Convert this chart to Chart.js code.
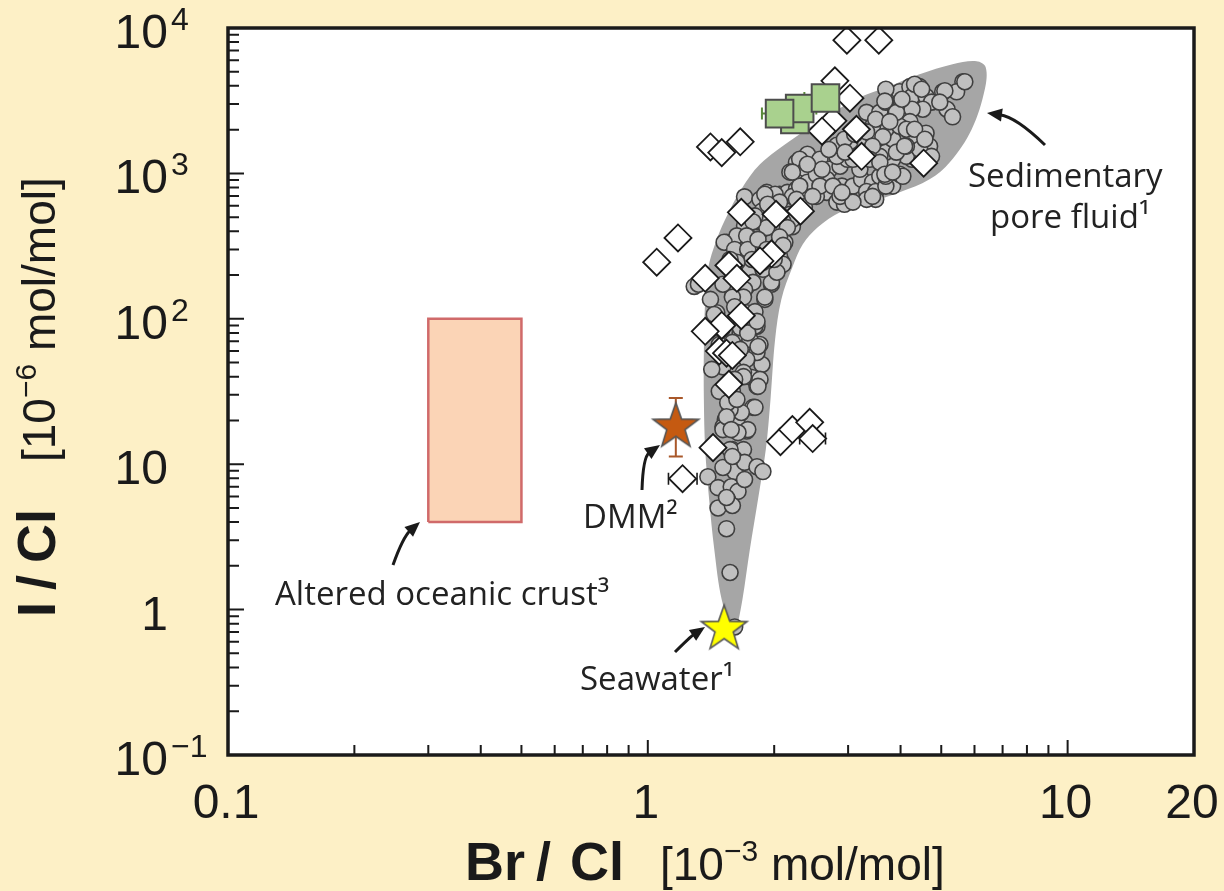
<!DOCTYPE html>
<html>
<head>
<meta charset="utf-8">
<script src="https://cdn.jsdelivr.net/npm/chart.js@4.4.1/dist/chart.umd.min.js"></script>
<style>
  html, body { margin: 0; padding: 0; background: #fdf0c6; }
  #wrap { width: 1224px; height: 891px; }
</style>
</head>
<body>
<div id="wrap"><canvas id="chart" width="1224" height="891"></canvas></div>
<script>
// axis ticks
const xTicks = [0.1, 1, 10, 20];
const xTickLabels = ['0.1', '1', '10', '20'];
const yTicks = [0.1, 1, 10, 100, 1000, 10000];
const yTickLabels = [['10', '\u22121'], ['1', ''], ['10', ''], ['10', '2'], ['10', '3'], ['10', '4']];

// sedimentary pore fluid field (outline), Br/Cl vs I/Cl
const envelope = [
  [1.61, 0.62], [1.50, 1.17], [1.44, 2.59], [1.40, 5.71], [1.37, 12.6], [1.36, 27.9], [1.36, 61.5],
  [1.37, 136], [1.39, 219], [1.46, 352], [1.55, 523], [1.67, 778], [1.85, 1155], [2.21, 1718],
  [2.67, 2472], [3.20, 3340], [3.71, 3915], [4.44, 4810], [5.32, 5635], [6.07, 5910], [6.38, 5375],
  [6.35, 3790], [5.91, 2012], [5.24, 1192], [4.69, 910], [3.98, 741], [3.38, 632], [2.87, 540],
  [2.54, 426], [2.34, 325], [2.21, 226], [2.08, 136], [2.01, 72], [1.96, 27.9], [1.91, 12.6],
  [1.83, 5.71], [1.75, 2.59], [1.68, 1.17], [1.61, 0.62]
];

// pore fluid samples (grey circles)
const poreFluid = [
  [1.78, 24.6], [1.53, 20.3], [1.66, 22.3], [1.51, 18.1], [1.63, 19.2], [1.72, 16.9], [1.59, 12.6], [1.69, 12.6],
  [1.61, 10.8], [1.61, 9.6], [1.61, 8.9], [1.51, 9.5], [1.70, 10.3], [1.82, 9.6], [1.88, 8.9], [1.39, 8.2],
  [1.47, 6.9], [1.58, 7.0], [1.64, 6.5], [1.55, 5.7], [1.47, 5.0], [1.59, 5.2], [1.54, 3.6], [1.57, 1.8],
  [1.61, 0.76], [1.82, 89], [1.85, 66.6], [1.87, 48.5], [1.77, 39.5], [1.82, 34.3], [1.51, 32.7], [1.59, 31.7],
  [1.80, 24.6], [1.67, 22.7], [1.57, 23.8], [1.73, 17.3], [1.64, 16.5], [1.51, 17.3], [1.57, 12.6], [1.59, 11.3],
  [1.70, 7.85], [1.54, 5.9], [1.72, 89], [1.66, 80], [1.75, 72], [1.82, 58.7], [1.72, 52.6], [1.50, 55],
  [1.69, 42.8], [1.48, 31.7], [1.85, 38.3], [2.08, 248], [2.04, 219], [1.97, 173], [1.90, 136], [1.75, 219],
  [1.72, 167], [1.59, 159], [1.66, 143], [1.72, 110], [1.80, 112], [1.80, 89], [1.66, 87], [1.73, 80],
  [1.83, 64.5], [1.83, 34.3], [1.69, 40], [1.61, 38.3], [1.55, 26.5], [1.63, 27.9], [1.54, 21.2], [1.58, 17.3],
  [1.29, 167], [1.46, 110], [1.48, 66.6], [1.50, 84.5], [1.51, 46.7], [1.59, 68.8], [1.66, 61.6], [1.41, 84.5],
  [1.42, 44.9], [1.41, 136], [1.70, 690], [1.92, 740], [2.06, 718], [2.15, 740], [2.26, 778], [2.52, 818],
  [2.67, 740], [2.82, 635], [2.21, 430], [2.06, 412], [2.12, 336], [1.85, 400], [1.72, 381], [1.67, 325],
  [1.54, 336], [1.75, 315], [1.93, 430], [1.90, 550], [1.82, 465], [2.06, 268], [2.10, 237], [1.97, 178],
  [1.90, 141], [1.78, 178], [1.70, 159], [1.69, 141], [1.59, 141], [1.61, 121], [1.44, 107], [1.82, 96],
  [1.51, 173], [1.32, 173], [1.88, 219], [2.03, 209], [2.01, 718], [2.21, 695], [2.40, 1353], [2.57, 1250],
  [2.26, 1190], [2.34, 1020], [2.18, 1020], [2.57, 955], [2.71, 1067], [2.87, 1120], [2.99, 1250], [2.82, 1310],
  [2.67, 911], [2.90, 818], [2.52, 695], [2.94, 613], [3.08, 818], [3.23, 911], [3.43, 870], [3.57, 955],
  [3.69, 1067], [3.32, 750], [3.49, 750], [3.83, 818], [3.98, 986], [4.26, 1250], [4.13, 1310], [3.83, 1250],
  [3.69, 1400], [3.43, 1400], [3.32, 1717], [3.57, 1790], [3.83, 1717], [3.69, 2012], [3.43, 2110], [3.32, 2630],
  [3.57, 2630], [3.69, 3090], [3.98, 3640], [4.21, 3950], [4.44, 3950], [4.26, 3380], [4.60, 3380], [4.74, 3090],
  [4.52, 2762], [4.26, 2762], [4.21, 2270], [3.98, 2110], [3.91, 2630], [4.26, 1790], [4.60, 1890], [4.69, 1540],
  [4.44, 1465], [4.13, 1540], [4.74, 1310], [5.04, 3640], [5.16, 2762], [5.32, 2450], [5.63, 4270], [5.44, 3640],
  [3.69, 3792], [3.20, 1067], [3.08, 1250], [3.69, 818], [3.49, 663], [3.32, 663], [3.20, 1560], [3.03, 1650],
  [2.82, 1560], [3.57, 1310], [3.91, 1400], [3.69, 955], [2.30, 1250], [2.38, 1067], [2.40, 870], [2.38, 690],
  [2.30, 818], [2.52, 986], [2.57, 818], [2.76, 818], [2.87, 695], [3.08, 635], [3.43, 695], [1.85, 663],
  [2.06, 635], [2.26, 663], [2.36, 590], [1.87, 550], [1.97, 540], [2.18, 523], [2.21, 483], [2.10, 465],
  [1.88, 465], [1.80, 510], [1.70, 437], [5.69, 4270], [5.10, 3700], [4.96, 3090], [4.05, 955], [4.32, 4105],
  [4.49, 3792], [4.03, 3236], [3.67, 3140], [3.49, 2357], [3.77, 2270], [3.32, 1930], [3.63, 1790], [4.13, 2012],
  [4.32, 2012], [4.57, 1717], [4.09, 1540], [3.43, 1540], [3.38, 1250], [3.57, 1190], [2.60, 1067], [2.40, 1155],
  [2.21, 1020], [2.90, 740], [3.67, 986], [3.83, 1020], [2.47, 695], [1.90, 718], [1.93, 613], [2.06, 523],
  [2.03, 430], [2.15, 424], [1.92, 424], [1.78, 465], [1.63, 372], [1.72, 372], [1.52, 336], [1.61, 300],
  [1.73, 300], [1.83, 352], [2.06, 366], [2.10, 320], [1.92, 300], [2.00, 256], [1.88, 245], [1.77, 256],
  [1.63, 245], [1.57, 256], [2.94, 1717], [3.11, 1860], [2.70, 1460], [2.95, 1400]
];

// fluid samples (white diamonds)
const diamonds = [
  [2.98, 8240], [3.55, 8240], [2.79, 4330], [3.03, 3290], [2.76, 2300], [2.60, 1950], [3.14, 2012], [3.23, 1310],
  [4.54, 1175], [1.41, 1520], [1.50, 1390], [1.66, 1650], [1.67, 540], [2.02, 523], [2.31, 550], [1.18, 360],
  [1.05, 245], [1.97, 280], [1.85, 250], [1.56, 233], [1.37, 190], [1.63, 190], [1.67, 105], [1.50, 90],
  [1.37, 82], [1.48, 60], [1.54, 58], [1.59, 56], [1.56, 35.4], [1.43, 13.0], [1.21, 7.95], [2.07, 14.3],
  [2.21, 17.3], [2.43, 19.4], [2.47, 15.0]
];
const diamondErr = [
  { x: 1.21, y: 7.95, lo: 1.12, hi: 1.31 },
  { x: 2.47, y: 15.0, lo: 2.30, hi: 2.65 }
];

// green squares
const squares = [[2.24, 2345], [2.30, 2793], [2.06, 2577], [2.65, 3304]];
const squareErr = [
  { x: 2.06, y: 2577, lo: 1.87, hi: 2.26 },
  { x: 2.30, y: 2793, lo: 2.10, hi: 2.52 },
  { x: 2.65, y: 3304, lo: 2.36, hi: 2.98 }
];

// end-members
const dmm = [[1.166, 18.8]];
const dmmErr = [11.3, 28.5];
const seawater = [[1.52, 0.764]];
const crust = [[0.3, 4], [0.5, 4], [0.5, 100], [0.3, 100], [0.3, 4]];

const pts = arr => arr.map(p => ({ x: p[0], y: p[1] }));

function makeStar(R, fill, stroke) {
  const c = document.createElement('canvas');
  const s = Math.ceil(2 * R + 6);
  c.width = s; c.height = s;
  const g = c.getContext('2d');
  const cx = s / 2, cy = s / 2 + R * 0.1;
  const r = R * 0.4;
  g.beginPath();
  for (let i = 0; i < 10; i++) {
    const a = -Math.PI / 2 + i * Math.PI / 5;
    const rr = i % 2 ? r : R;
    g.lineTo(cx + rr * Math.cos(a), cy + rr * Math.sin(a));
  }
  g.closePath();
  g.fillStyle = fill; g.fill();
  g.lineWidth = 1.6; g.strokeStyle = stroke; g.stroke();
  return c;
}

function rich(ctx, parts, x, y) {
  let cx = x;
  for (const p of parts) {
    ctx.font = p[1];
    ctx.fillText(p[0], cx, y - (p[2] || 0));
    cx += ctx.measureText(p[0]).width;
  }
}

function arrow(ctx, x0, y0, qx, qy, x1, y1) {
  const ang = Math.atan2(y1 - qy, x1 - qx);
  const L = 15, W = 6.5;
  const bx = x1 - Math.cos(ang) * (L - 2), by = y1 - Math.sin(ang) * (L - 2);
  ctx.beginPath();
  ctx.moveTo(x0, y0);
  ctx.quadraticCurveTo(qx, qy, bx, by);
  ctx.lineWidth = 3; ctx.stroke();
  ctx.beginPath();
  ctx.moveTo(x1, y1);
  ctx.lineTo(x1 - Math.cos(ang) * L - Math.sin(ang) * W, y1 - Math.sin(ang) * L + Math.cos(ang) * W);
  ctx.lineTo(x1 - Math.cos(ang) * L + Math.sin(ang) * W, y1 - Math.sin(ang) * L - Math.cos(ang) * W);
  ctx.closePath(); ctx.fill();
}

function logMarks(min, max) {
  const out = [];
  for (let d = 0.1; d < max; d *= 10) {
    for (let k = 1; k <= 9; k++) {
      const v = +(k * d).toPrecision(3);
      if (v > min * 1.0001 && v < max * 0.9999) out.push({ v, major: k === 1 });
    }
  }
  return out;
}

const decor = {
  id: 'decor',
  beforeDraw(chart) {
    const { ctx, chartArea: a } = chart;
    ctx.save();
    ctx.fillStyle = '#fdf0c6';
    ctx.fillRect(0, 0, chart.width, chart.height);
    ctx.fillStyle = '#ffffff';
    ctx.fillRect(a.left, a.top, a.right - a.left, a.bottom - a.top);
    ctx.restore();
  },
  beforeDatasetsDraw(chart) {
    const { ctx, scales: { x, y } } = chart;
    ctx.save();
    const hbar = (e, color, w) => {
      const py = y.getPixelForValue(e.y);
      const a = x.getPixelForValue(e.lo), b = x.getPixelForValue(e.hi);
      ctx.strokeStyle = color; ctx.lineWidth = w;
      ctx.beginPath();
      ctx.moveTo(a, py); ctx.lineTo(b, py);
      ctx.moveTo(a, py - 6); ctx.lineTo(a, py + 6);
      ctx.moveTo(b, py - 6); ctx.lineTo(b, py + 6);
      ctx.stroke();
    };
    squareErr.forEach(e => hbar(e, '#5a8a3a', 2));
    diamondErr.forEach(e => hbar(e, '#1a1a1a', 1.6));
    const px = x.getPixelForValue(dmm[0][0]);
    const t = y.getPixelForValue(dmmErr[1]), b = y.getPixelForValue(dmmErr[0]);
    ctx.strokeStyle = '#a9582a'; ctx.lineWidth = 2;
    ctx.beginPath();
    ctx.moveTo(px, t); ctx.lineTo(px, b);
    ctx.moveTo(px - 7, t); ctx.lineTo(px + 7, t);
    ctx.moveTo(px - 7, b); ctx.lineTo(px + 7, b);
    ctx.stroke();
    ctx.restore();
  },
  afterDraw(chart) {
    const { ctx, chartArea: a, scales: { x, y } } = chart;
    ctx.save();
    ctx.strokeStyle = '#1a1a1a';
    ctx.lineWidth = 2;
    ctx.beginPath();
    for (const m of logMarks(0.1, 20)) {
      const px = x.getPixelForValue(m.v);
      ctx.moveTo(px, a.bottom); ctx.lineTo(px, a.bottom - (m.major ? 15 : 10));
    }
    for (const m of logMarks(0.1, 10000)) {
      const py = y.getPixelForValue(m.v);
      ctx.moveTo(a.left, py); ctx.lineTo(a.left + (m.major ? 16 : 11), py);
    }
    ctx.stroke();
    ctx.lineWidth = 3.5;
    ctx.strokeRect(a.left, a.top, a.right - a.left, a.bottom - a.top);

    // tick labels
    ctx.fillStyle = '#1a1a1a';
    ctx.textBaseline = 'alphabetic';
    ctx.font = '48px "Liberation Sans", Arial, sans-serif';
    ctx.textAlign = 'center';
    xTicks.forEach((v, i) => ctx.fillText(xTickLabels[i], x.getPixelForValue(v) - 2, 818));
    yTicks.forEach((v, i) => {
      const py = y.getPixelForValue(v) + 20;
      ctx.textAlign = 'right';
      ctx.font = '48px "Liberation Sans", Arial, sans-serif';
      ctx.fillText(yTickLabels[i][0], 168, py);
      if (yTickLabels[i][1]) {
        ctx.textAlign = 'left';
        ctx.font = '32px "Liberation Sans", Arial, sans-serif';
        ctx.fillText(yTickLabels[i][1], 171, py - 18);
      }
    });

    // axis titles
    ctx.textAlign = 'left';
    const bold = 'bold 54px "Liberation Sans", Arial, sans-serif';
    const reg = '46px "Liberation Sans", Arial, sans-serif';
    const sup = '30px "Liberation Sans", Arial, sans-serif';
    ctx.font = bold;
    ctx.fillText('Br', 465, 880);
    ctx.fillText('/', 536, 880);
    ctx.fillText('Cl', 570, 880);
    rich(ctx, [['[10', reg], ['\u22123', sup, 19], [' mol/mol]', reg]], 660, 880);
    ctx.save();
    ctx.translate(55, 617);
    ctx.rotate(-Math.PI / 2);
    ctx.font = bold;
    ctx.fillText('I', 0, 0);
    ctx.fillText('/', 27, 0);
    ctx.fillText('Cl', 54, 0);
    rich(ctx, [['[10', reg], ['\u22126', sup, 19], [' mol/mol]', reg]], 155, 0);
    ctx.restore();

    // annotations
    ctx.fillStyle = '#222';
    ctx.strokeStyle = '#1a1a1a';
    ctx.font = '33px "Open Sans", "Noto Sans", sans-serif';
    ctx.fillText('Sedimentary', 968, 187);
    ctx.fillText('pore fluid\u00b9', 990, 228);
    ctx.fillText('DMM\u00b2', 583, 528);
    ctx.fillText('Altered oceanic crust\u00b3', 275, 605);
    ctx.fillText('Seawater\u00b9', 580, 690);
    ctx.fillStyle = '#1a1a1a';
    arrow(ctx, 1045, 145, 1016, 117, 987, 113);
    arrow(ctx, 642, 490, 643, 457, 660, 445);
    arrow(ctx, 393, 565, 403, 537, 420, 522);
    arrow(ctx, 675, 652, 690, 637, 705, 627);
    ctx.restore();
  }
};

new Chart(document.getElementById('chart'), {
  type: 'scatter',
  data: {
    datasets: [
      { label: 'Seawater', data: pts(seawater), pointStyle: makeStar(24, '#ffff00', '#555555'), pointRadius: 20, order: 0 },
      { label: 'DMM', data: pts(dmm), pointStyle: makeStar(24, '#c55a11', '#555555'), pointRadius: 20, order: 1 },
      { label: 'Squares', data: pts(squares), pointStyle: 'rect', pointRadius: 19.5, backgroundColor: '#a9d18e', borderColor: '#4d4d4d', borderWidth: 2, order: 2 },
      { label: 'Diamonds', data: pts(diamonds), pointStyle: 'rectRot', pointRadius: 13.5, backgroundColor: '#ffffff', borderColor: '#1a1a1a', borderWidth: 1.8, order: 3 },
      { label: 'Pore fluid', data: pts(poreFluid), pointStyle: 'circle', pointRadius: 8, backgroundColor: '#c0c0c0', borderColor: '#3f3f3f', borderWidth: 1.6, order: 4 },
      { type: 'line', label: 'Envelope', data: pts(envelope), fill: 'shape', backgroundColor: '#a6a6a6', borderColor: 'rgba(0,0,0,0)', borderWidth: 0, pointRadius: 0, tension: 0.35, order: 5 },
      { type: 'line', label: 'Crust', data: pts(crust), fill: 'shape', backgroundColor: '#fbd4b6', borderColor: '#d06a6a', borderWidth: 2.5, pointRadius: 0, tension: 0, order: 6 }
    ]
  },
  options: {
    responsive: false,
    animation: false,
    events: [],
    layout: { padding: { left: 228, top: 28, right: 30, bottom: 136 } },
    plugins: { legend: { display: false }, tooltip: { enabled: false } },
    scales: {
      x: { type: 'logarithmic', min: 0.1, max: 20, display: false },
      y: { type: 'logarithmic', min: 0.1, max: 10000, display: false }
    }
  },
  plugins: [decor]
});
</script>
</body>
</html>
